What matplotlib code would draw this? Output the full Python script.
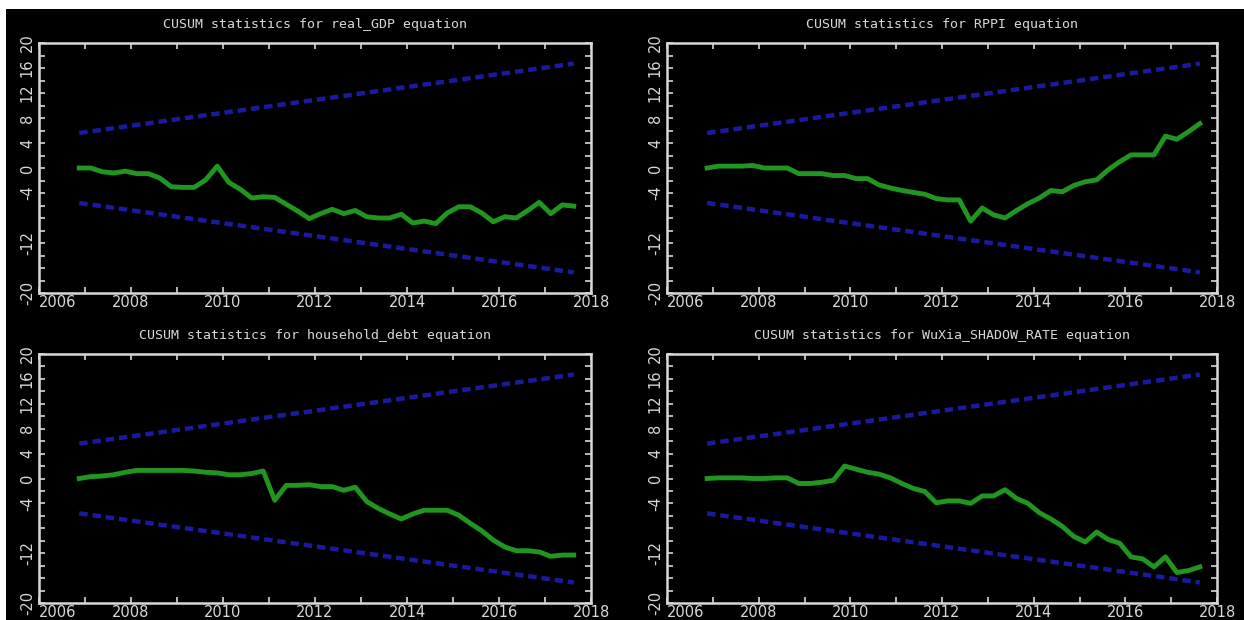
"""CUSUM stability tests for the four VAR equations."""
import matplotlib

matplotlib.use("Agg")
import matplotlib.pyplot as plt  # noqa: E402
import numpy as np  # noqa: E402
from matplotlib.patches import Rectangle  # noqa: E402

# quarterly sample, 2006Q4 .. 2017Q3
first_quarter = 2006.875
n_quarters = 44
dates = first_quarter + 0.25 * np.arange(n_quarters)

real_gdp = [0.0, 0.0, -0.6, -0.8, -0.5, -0.9, -0.9, -1.6, -3.0, -3.1,
            -3.1, -1.9, 0.3, -2.3, -3.4, -4.8, -4.6, -4.7, -5.8, -6.9,
            -8.1, -7.3, -6.6, -7.3, -6.8, -7.8, -8.0, -8.0, -7.4, -8.8,
            -8.5, -8.9, -7.2, -6.2, -6.2, -7.2, -8.6, -7.8, -8.0, -6.8,
            -5.5, -7.3, -5.9, -6.1]
rppi = [0.0, 0.3, 0.3, 0.3, 0.4, 0.0, 0.0, 0.0, -0.9, -0.9,
        -0.9, -1.2, -1.2, -1.7, -1.7, -2.7, -3.2, -3.6, -3.9, -4.2,
        -4.9, -5.1, -5.1, -8.5, -6.4, -7.5, -8.0, -6.8, -5.7, -4.8,
        -3.6, -3.8, -2.8, -2.2, -1.9, -0.3, 1.0, 2.1, 2.1, 2.1,
        5.1, 4.6, 5.8, 7.1]
household_debt = [0.0, 0.3, 0.4, 0.6, 1.0, 1.3, 1.3, 1.3, 1.3, 1.3,
                  1.2, 1.0, 0.9, 0.6, 0.6, 0.8, 1.2, -3.5, -1.1, -1.1,
                  -1.0, -1.3, -1.3, -1.9, -1.4, -3.7, -4.8, -5.7, -6.5, -5.7,
                  -5.1, -5.1, -5.1, -5.9, -7.2, -8.4, -9.9, -11.0, -11.6, -11.6,
                  -11.8, -12.5, -12.3, -12.3]
shadow_rate = [0.0, 0.1, 0.1, 0.1, 0.0, 0.0, 0.1, 0.1, -0.8, -0.8,
               -0.6, -0.3, 2.0, 1.5, 1.0, 0.7, 0.1, -0.8, -1.6, -2.1,
               -3.9, -3.6, -3.6, -4.0, -2.8, -2.8, -1.8, -3.2, -4.0, -5.5,
               -6.5, -7.7, -9.3, -10.2, -8.6, -9.8, -10.4, -12.6, -12.9, -14.2,
               -12.6, -15.1, -14.8, -14.2]

# 5% critical lines at the first and last observation
upper_band = [5.6, 16.7]
lower_band = [-5.6, -16.7]

titles = ["real_GDP", "RPPI", "household_debt", "WuXia_SHADOW_RATE"]
series = [real_gdp, rppi, household_debt, shadow_rate]

year_labels = [2006, 2008, 2010, 2012, 2014, 2016, 2018]
y_labels = [-20, -12, -4, 0, 4, 8, 12, 16, 20]

FG = "#d8d8d8"
GREEN = "#209620"
BLUE = "#1e1eb4"

fig = plt.figure(figsize=(12.44, 6.2), dpi=100, facecolor="white")
fig.patches.append(Rectangle((6 / 1244, 0), 1, 611 / 620, transform=fig.transFigure,
                             facecolor="black", edgecolor="none", zorder=-1))

W, H = 1244, 620
boxes = [(39, 43, 591, 293), (667, 43, 1217, 293),
         (39, 354, 591, 603), (667, 354, 1217, 603)]

for (x0, y0, x1, y1), name, values in zip(boxes, titles, series):
    ax = fig.add_axes([x0 / W, 1 - y1 / H, (x1 - x0) / W, (y1 - y0) / H])
    ax.set_facecolor("black")

    ends = [dates[0], dates[-1]]
    ax.plot(ends, upper_band, color=BLUE, lw=3.2, dashes=(1.9, 1.1), alpha=0.9)
    ax.plot(ends, lower_band, color=BLUE, lw=3.2, dashes=(1.9, 1.1), alpha=0.9)
    ax.plot(dates, values, color=GREEN, lw=3.5, solid_joinstyle="round")

    ax.set_xlim(2006, 2018)
    ax.set_ylim(-20, 20)
    ax.set_xticks(np.arange(2006, 2019, 1), minor=True)
    ax.set_xticks(year_labels)
    ax.set_xticklabels([str(y) for y in year_labels])
    ax.get_xticklabels()[0].set_horizontalalignment("left")
    ax.set_yticks(np.arange(-20, 21, 2), minor=True)
    ax.set_yticks(y_labels)
    ax.set_yticklabels([str(v) for v in y_labels], rotation=90, va="center")

    ax.tick_params(which="both", direction="in", colors=FG, top=True, right=True,
                   length=4, width=1.2, labelsize=10.5)
    ax.tick_params(axis="x", pad=1.5)
    ax.tick_params(axis="y", pad=3)
    for lab in ax.get_xticklabels() + ax.get_yticklabels():
        lab.set_color(FG)
    for sp in ax.spines.values():
        sp.set_color(FG)
        sp.set_linewidth(1.8)

    ax.set_title(f"CUSUM statistics for {name} equation", color=FG,
                 family="DejaVu Sans Mono", fontsize=9.5, pad=11)

fig.savefig("out.png", dpi=100, facecolor=fig.get_facecolor())
